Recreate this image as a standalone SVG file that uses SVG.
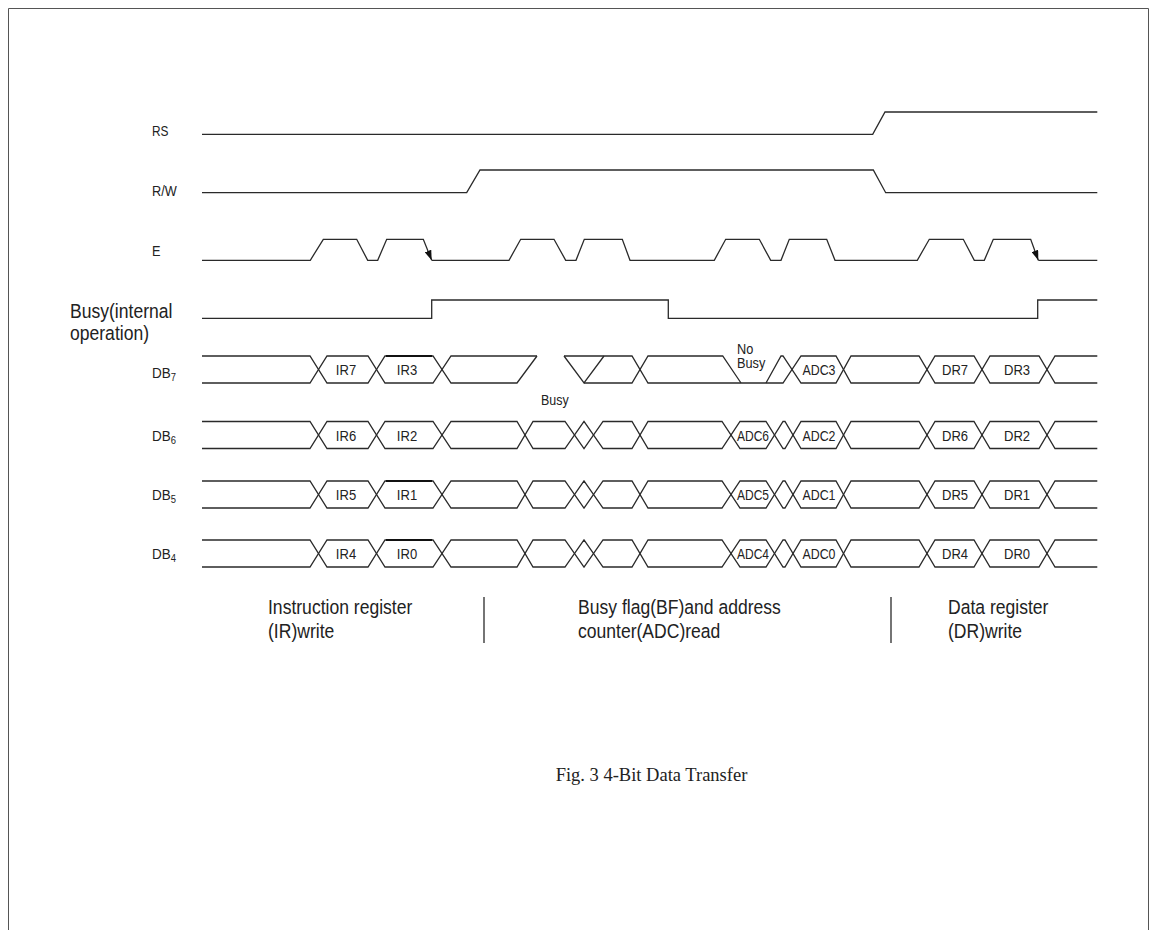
<svg xmlns="http://www.w3.org/2000/svg" width="1157" height="930" viewBox="0 0 1157 930">
<defs>
<style>
.sig{fill:none;stroke:#2a2a2a;stroke-width:1.3;stroke-linejoin:miter}
.thk{fill:none;stroke:#111;stroke-width:2}
.lbl{font-family:"Liberation Sans",Arial,sans-serif;font-size:14.5px;fill:#222}
.big{font-family:"Liberation Sans",Arial,sans-serif;font-size:19.5px;fill:#222}
.in{font-family:"Liberation Sans",Arial,sans-serif;font-size:14.5px;fill:#222;text-anchor:middle}
.db{font-family:"Liberation Sans",Arial,sans-serif;font-size:15px;fill:#222}
.cap{font-family:"Liberation Serif","Times New Roman",serif;font-size:18.5px;fill:#222;text-anchor:middle}
</style>
<marker id="arr" markerUnits="userSpaceOnUse" markerWidth="11" markerHeight="7" refX="10" refY="3.5" orient="auto">
<path d="M0,0 L10,3.5 L0,7 z" fill="#111"/>
</marker>
</defs>
<rect x="0" y="0" width="1157" height="930" fill="#fff"/>
<path d="M8.5,935 V8.5 H1148.5 V935" fill="none" stroke="#555" stroke-width="1"/>

<g id="labels">
<text class="lbl" transform="translate(152,136) scale(0.82,1)">RS</text>
<text class="lbl" transform="translate(152,196) scale(0.88,1)">R/W</text>
<text class="lbl" transform="translate(152,256) scale(0.88,1)">E</text>
<text class="big" transform="translate(70,318) scale(0.9,1)" font-size="18.5">Busy(internal</text>
<text class="big" transform="translate(70,340) scale(0.9,1)" font-size="18.5">operation)</text>
<text class="db" transform="translate(152,378) scale(0.9,1)">DB<tspan font-size="10.5" dy="2.5">7</tspan></text>
<text class="db" transform="translate(152,441) scale(0.9,1)">DB<tspan font-size="10.5" dy="2.5">6</tspan></text>
<text class="db" transform="translate(152,500) scale(0.9,1)">DB<tspan font-size="10.5" dy="2.5">5</tspan></text>
<text class="db" transform="translate(152,559) scale(0.9,1)">DB<tspan font-size="10.5" dy="2.5">4</tspan></text>
</g>

<g id="signals">
<g id="sig-rs"><path class="sig" d="M202,134.3 H872.7 L885,112 H1097.3"/></g>
<g id="sig-rw"><path class="sig" d="M202,192.7 H466.7 L480,170 H873.3 L885.7,192.7 H1097.3"/></g>
<g id="sig-e">
<path class="sig" marker-end="url(#arr)" d="M202,260.3 H310.3 L323.3,239.3 H356.7 L367.7,260.3 H377.7 L386.7,239.3 H423.3 L431.7,260.3"/>
<path class="sig" marker-end="url(#arr)" d="M431.7,260.3 H509 L520.7,239.3 H554 L565.7,260.3 H576 L584.3,239.3 H622.3 L630,260.3 H714.3 L725.7,239.3 H759.3 L770.7,260.3 H781 L789.3,239.3 H826.7 L835,260.3 H917.3 L929.3,239.3 H963.3 L974.3,260.3 H984.3 L993.3,239.3 H1030.7 L1038.3,260.3"/>
<path class="sig" d="M1038.3,260.3 H1097.3"/>
</g>
<g id="sig-busy"><path class="sig" d="M202,318.3 H431.7 V300 H668.3 V318.3 H1037.7 V300 H1097.3"/></g>

<g id="sig-db7">
<path class="sig" d="M202,356 H310 L327,383 H368 L385,356 H433 L451,383 H517 L537,356"/>
<path class="sig" d="M202,383 H310 L327,356 H368 L385,383 H433 L451,356 H537"/>
<path class="sig" d="M564,356 L584,383 L604,356"/>
<path class="sig" d="M564,356 H632 L648,383 H783 L801,356 H836 L851,383 H919 L935,356 H974 L990,383 H1039 L1055,356 H1097.3"/>
<path class="sig" d="M584,383 H632 L648,356 H722.7 L741,383"/>
<path class="sig" d="M766,383 L781,356 H783 L801,383 H836 L851,356 H919 L935,383 H974 L990,356 H1039 L1055,383 H1097.3"/>
<path class="thk" d="M386,356 H432"/>
<text class="in" transform="translate(346,375) scale(0.9,1)">IR7</text>
<text class="in" transform="translate(407,375) scale(0.9,1)">IR3</text>
<text class="lbl" transform="translate(737,354) scale(0.88,1)">No</text>
<text class="lbl" transform="translate(737,368) scale(0.88,1)">Busy</text>
<text class="in" x="819" y="375" textLength="33" lengthAdjust="spacingAndGlyphs">ADC3</text>
<text class="in" transform="translate(955,375) scale(0.9,1)">DR7</text>
<text class="in" transform="translate(1017,375) scale(0.9,1)">DR3</text>
</g>
<text class="lbl" transform="translate(541,405) scale(0.86,1)" font-size="15.5">Busy</text>

<g id="sig-db6">
<path class="sig" d="M202,421.5 H310 L327,448.5 H368 L385,421.5 H433 L451,448.5 H517 L533,421.5 H565 L584,448.5 L603,421.5 H632 L648,448.5 H722 L740,421.5 H766 L783,448.5 H785 L801,421.5 H836 L851,448.5 H919 L935,421.5 H974 L990,448.5 H1039 L1055,421.5 H1097.3"/>
<path class="sig" d="M202,448.5 H310 L327,421.5 H368 L385,448.5 H433 L451,421.5 H517 L533,448.5 H565 L584,421.5 L603,448.5 H632 L648,421.5 H722 L740,448.5 H766 L783,421.5 H785 L801,448.5 H836 L851,421.5 H919 L935,448.5 H974 L990,421.5 H1039 L1055,448.5 H1097.3"/>
<text class="in" transform="translate(346,440.5) scale(0.9,1)">IR6</text>
<text class="in" transform="translate(407,440.5) scale(0.9,1)">IR2</text>
<text class="in" x="753" y="440.5" textLength="32" lengthAdjust="spacingAndGlyphs">ADC6</text>
<text class="in" x="819" y="440.5" textLength="33" lengthAdjust="spacingAndGlyphs">ADC2</text>
<text class="in" transform="translate(955,440.5) scale(0.9,1)">DR6</text>
<text class="in" transform="translate(1017,440.5) scale(0.9,1)">DR2</text>
</g>

<g id="sig-db5">
<path class="sig" d="M202,481 H310 L327,508 H368 L385,481 H433 L451,508 H517 L533,481 H565 L584,508 L603,481 H632 L648,508 H722 L740,481 H766 L783,508 H785 L801,481 H836 L851,508 H919 L935,481 H974 L990,508 H1039 L1055,481 H1097.3"/>
<path class="sig" d="M202,508 H310 L327,481 H368 L385,508 H433 L451,481 H517 L533,508 H565 L584,481 L603,508 H632 L648,481 H722 L740,508 H766 L783,481 H785 L801,508 H836 L851,481 H919 L935,508 H974 L990,481 H1039 L1055,508 H1097.3"/>
<path class="thk" d="M386,481 H432"/>
<text class="in" transform="translate(346,500) scale(0.9,1)">IR5</text>
<text class="in" transform="translate(407,500) scale(0.9,1)">IR1</text>
<text class="in" x="753" y="500" textLength="32" lengthAdjust="spacingAndGlyphs">ADC5</text>
<text class="in" x="819" y="500" textLength="33" lengthAdjust="spacingAndGlyphs">ADC1</text>
<text class="in" transform="translate(955,500) scale(0.9,1)">DR5</text>
<text class="in" transform="translate(1017,500) scale(0.9,1)">DR1</text>
</g>

<g id="sig-db4">
<path class="sig" d="M202,540 H310 L327,567 H368 L385,540 H433 L451,567 H517 L533,540 H565 L584,567 L603,540 H632 L648,567 H722 L740,540 H766 L783,567 H785 L801,540 H836 L851,567 H919 L935,540 H974 L990,567 H1039 L1055,540 H1097.3"/>
<path class="sig" d="M202,567 H310 L327,540 H368 L385,567 H433 L451,540 H517 L533,567 H565 L584,540 L603,567 H632 L648,540 H722 L740,567 H766 L783,540 H785 L801,567 H836 L851,540 H919 L935,567 H974 L990,540 H1039 L1055,567 H1097.3"/>
<path class="thk" d="M386,540 H432"/>
<text class="in" transform="translate(346,559) scale(0.9,1)">IR4</text>
<text class="in" transform="translate(407,559) scale(0.9,1)">IR0</text>
<text class="in" x="753" y="559" textLength="32" lengthAdjust="spacingAndGlyphs">ADC4</text>
<text class="in" x="819" y="559" textLength="33" lengthAdjust="spacingAndGlyphs">ADC0</text>
<text class="in" transform="translate(955,559) scale(0.9,1)">DR4</text>
<text class="in" transform="translate(1017,559) scale(0.9,1)">DR0</text>
</g>
</g>

<g id="phases">
<text class="big" transform="translate(268,614) scale(0.9,1)">Instruction register</text>
<text class="big" transform="translate(268,638) scale(0.9,1)">(IR)write</text>
<path class="sig" d="M484,597 V643"/>
<text class="big" transform="translate(578,614) scale(0.9,1)">Busy flag(BF)and address</text>
<text class="big" transform="translate(578,638) scale(0.9,1)">counter(ADC)read</text>
<path class="sig" d="M891,597 V643"/>
<text class="big" transform="translate(948,614) scale(0.9,1)">Data register</text>
<text class="big" transform="translate(948,638) scale(0.9,1)">(DR)write</text>
</g>

<text class="cap" x="651.5" y="781">Fig. 3 4-Bit Data Transfer</text>
</svg>
